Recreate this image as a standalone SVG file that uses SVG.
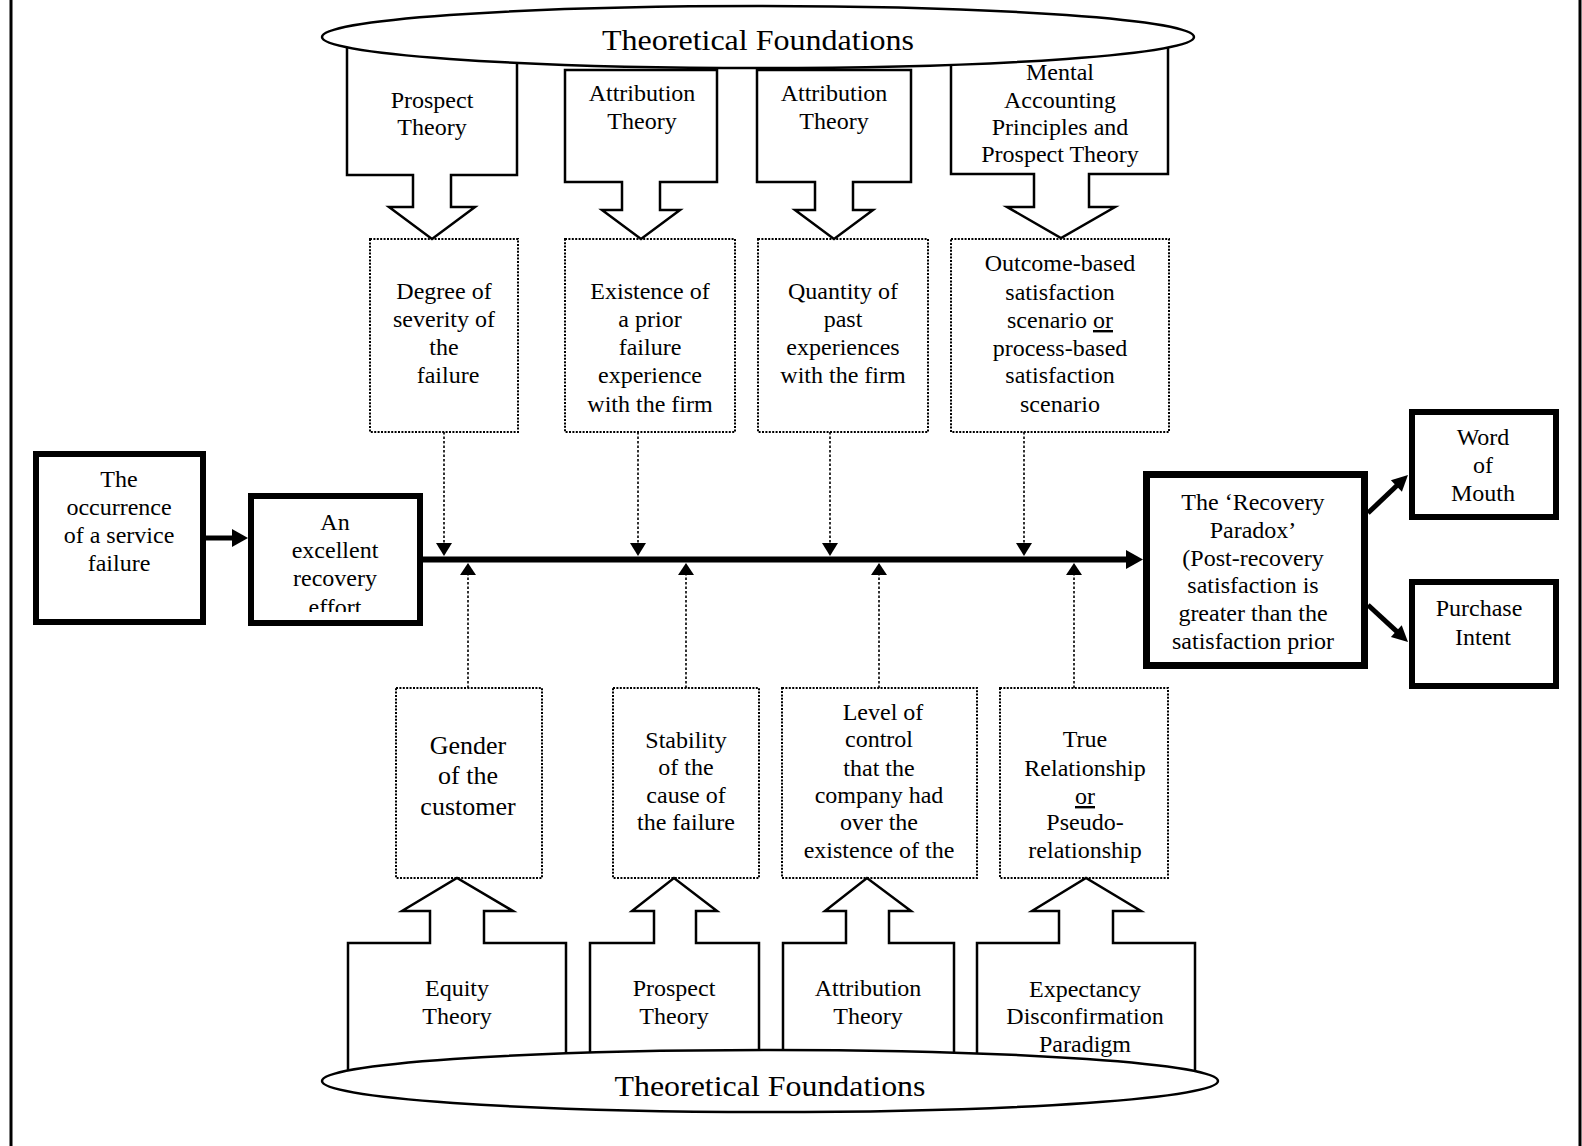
<svg xmlns="http://www.w3.org/2000/svg" width="1582" height="1146" viewBox="0 0 1582 1146">
<style>
.t{font-family:"Liberation Serif","Times New Roman",serif;font-size:24px;text-anchor:middle;fill:#000}
.title{font-size:30px}
.big{font-size:26px}
.thick{fill:#fff;stroke:#000;stroke-width:6}
.xthick{fill:#fff;stroke:#000;stroke-width:7}
.theory{fill:none;stroke:#000;stroke-width:2.5;stroke-linejoin:miter}
.dotbox{fill:none;stroke:#000;stroke-width:2;stroke-dasharray:2 1.4}
.dotline{fill:none;stroke:#000;stroke-width:1.6;stroke-dasharray:2.5 2}
.oval{fill:none;stroke:#000;stroke-width:2.5}
.solid{fill:none;stroke:#000;stroke-width:5}
.head{fill:#000;stroke:none}
.u{text-decoration:underline}
</style>
<defs>
<clipPath id="clipEffort"><rect x="248" y="490" width="175" height="122"/></clipPath>
</defs>
<rect x="0" y="0" width="1582" height="1146" fill="#fff"/>
<g id="page-border">
<line x1="11" y1="0" x2="11" y2="1146" stroke="#000" stroke-width="3"/>
<line x1="1580" y1="0" x2="1580" y2="1146" stroke="#000" stroke-width="3"/>
</g>

<g id="top-foundations">
<ellipse class="oval" cx="758" cy="37" rx="436" ry="31"/>
<text class="t title" x="758" y="50" textLength="312" lengthAdjust="spacingAndGlyphs">Theoretical Foundations</text>
</g>

<g id="top-prospect-theory">
<path class="theory" d="M347,47.3 L347,175 L413,175 L413,207 L389,207 L432,239 L475,207 L451,207 L451,175 L517,175 L517,62.8"/>
<text class="t" x="432" y="108">Prospect</text>
<text class="t" x="432" y="135">Theory</text>
</g>
<g id="top-attribution-theory-1">
<path class="theory" d="M565,70 L717,70 L717,182 L660,182 L660,210 L680,210 L641,239 L602,210 L622,210 L622,182 L565,182 Z"/>
<text class="t" x="642" y="101">Attribution</text>
<text class="t" x="642" y="129">Theory</text>
</g>
<g id="top-attribution-theory-2">
<path class="theory" d="M757,70 L911,70 L911,182 L853,182 L853,210 L873,210 L834,239 L795,210 L815,210 L815,182 L757,182 Z"/>
<text class="t" x="834" y="101">Attribution</text>
<text class="t" x="834" y="129">Theory</text>
</g>
<g id="top-mental-accounting">
<path class="theory" d="M951,64.8 L951,174 L1034,174 L1034,207 L1007,207 L1061,238 L1115,207 L1089,207 L1089,174 L1168,174 L1168,47.5"/>
<text class="t" x="1060" y="80">Mental</text>
<text class="t" x="1060" y="108">Accounting</text>
<text class="t" x="1060" y="135">Principles and</text>
<text class="t" x="1060" y="162">Prospect Theory</text>
</g>

<g id="degree-of-severity">
<rect class="dotbox" x="370" y="239" width="148" height="193"/>
<text class="t" x="444" y="299">Degree of</text>
<text class="t" x="444" y="327">severity of</text>
<text class="t" x="444" y="355">the</text>
<text class="t" x="448" y="383">failure</text>
</g>
<g id="prior-failure">
<rect class="dotbox" x="565" y="239" width="170" height="193"/>
<text class="t" x="650" y="299">Existence of</text>
<text class="t" x="650" y="327">a prior</text>
<text class="t" x="650" y="355">failure</text>
<text class="t" x="650" y="383">experience</text>
<text class="t" x="650" y="412">with the firm</text>
</g>
<g id="past-experiences">
<rect class="dotbox" x="758" y="239" width="170" height="193"/>
<text class="t" x="843" y="299">Quantity of</text>
<text class="t" x="843" y="327">past</text>
<text class="t" x="843" y="355">experiences</text>
<text class="t" x="843" y="383">with the firm</text>
</g>
<g id="satisfaction-scenario">
<rect class="dotbox" x="951" y="239" width="218" height="193"/>
<text class="t" x="1060" y="271">Outcome-based</text>
<text class="t" x="1060" y="300">satisfaction</text>
<text class="t" x="1060" y="328">scenario <tspan class="u">or</tspan></text>
<text class="t" x="1060" y="356">process-based</text>
<text class="t" x="1060" y="383">satisfaction</text>
<text class="t" x="1060" y="412">scenario</text>
</g>

<g id="service-failure">
<rect class="thick" x="36" y="454" width="167" height="168"/>
<text class="t" x="119" y="487">The</text>
<text class="t" x="119" y="515">occurrence</text>
<text class="t" x="119" y="543">of a service</text>
<text class="t" x="119" y="571">failure</text>
</g>
<g id="recovery-effort">
<rect class="thick" x="251" y="496" width="169" height="127"/>
<g clip-path="url(#clipEffort)">
<text class="t" x="335" y="530">An</text>
<text class="t" x="335" y="558">excellent</text>
<text class="t" x="335" y="586">recovery</text>
<text class="t" x="335" y="615">effort</text>
</g>
</g>
<g id="recovery-paradox">
<rect class="xthick" x="1146.5" y="474.5" width="218" height="191"/>
<text class="t" x="1253" y="510">The ‘Recovery</text>
<text class="t" x="1253" y="538">Paradox’</text>
<text class="t" x="1253" y="566">(Post-recovery</text>
<text class="t" x="1253" y="593">satisfaction is</text>
<text class="t" x="1253" y="621">greater than the</text>
<text class="t" x="1253" y="649">satisfaction prior</text>
</g>
<g id="word-of-mouth">
<rect class="thick" x="1412" y="412" width="144" height="105"/>
<text class="t" x="1483" y="445">Word</text>
<text class="t" x="1483" y="473">of</text>
<text class="t" x="1483" y="501">Mouth</text>
</g>
<g id="purchase-intent">
<rect class="thick" x="1412" y="582" width="144" height="104"/>
<text class="t" x="1479" y="616">Purchase</text>
<text class="t" x="1483" y="645">Intent</text>
</g>

<g id="gender">
<rect class="dotbox" x="396" y="688" width="146" height="190"/>
<text class="t big" x="468" y="754">Gender</text>
<text class="t big" x="468" y="784">of the</text>
<text class="t big" x="468" y="815">customer</text>
</g>
<g id="stability">
<rect class="dotbox" x="613" y="688" width="146" height="190"/>
<text class="t" x="686" y="748">Stability</text>
<text class="t" x="686" y="775">of the</text>
<text class="t" x="686" y="803">cause of</text>
<text class="t" x="686" y="830">the failure</text>
</g>
<g id="level-of-control">
<rect class="dotbox" x="782" y="688" width="195" height="190"/>
<text class="t" x="883" y="720">Level of</text>
<text class="t" x="879" y="747">control</text>
<text class="t" x="879" y="776">that the</text>
<text class="t" x="879" y="803">company had</text>
<text class="t" x="879" y="830">over the</text>
<text class="t" x="879" y="858">existence of the</text>
</g>
<g id="relationship">
<rect class="dotbox" x="1000" y="688" width="168" height="190"/>
<text class="t" x="1085" y="747">True</text>
<text class="t" x="1085" y="776">Relationship</text>
<text class="t" x="1085" y="804"><tspan class="u">or</tspan></text>
<text class="t" x="1085" y="830">Pseudo-</text>
<text class="t" x="1085" y="858">relationship</text>
</g>

<g id="bottom-foundations">
<ellipse class="oval" cx="770" cy="1081" rx="448" ry="31"/>
<text class="t title" x="770" y="1096" textLength="311" lengthAdjust="spacingAndGlyphs">Theoretical Foundations</text>
</g>

<g id="bottom-equity-theory">
<path class="theory" d="M348,1070.6 L348,943 L430,943 L430,911 L402,911 L457,878 L513,911 L484,911 L484,943 L566,943 L566,1053.4"/>
<text class="t" x="457" y="996">Equity</text>
<text class="t" x="457" y="1024">Theory</text>
</g>
<g id="bottom-prospect-theory">
<path class="theory" d="M590,1052.6 L590,943 L654,943 L654,911 L632,911 L674,878 L717,911 L696,911 L696,943 L759,943 L759,1050"/>
<text class="t" x="674" y="996">Prospect</text>
<text class="t" x="674" y="1024">Theory</text>
</g>
<g id="bottom-attribution-theory">
<path class="theory" d="M783,1050 L783,943 L846,943 L846,911 L825,911 L867,878 L911,911 L889,911 L889,943 L954,943 L954,1052.7"/>
<text class="t" x="868" y="996">Attribution</text>
<text class="t" x="868" y="1024">Theory</text>
</g>
<g id="bottom-expectancy">
<path class="theory" d="M977,1053.5 L977,943 L1059,943 L1059,911 L1032,911 L1086,878 L1141,911 L1113,911 L1113,943 L1195,943 L1195,1071.2"/>
<text class="t" x="1085" y="997">Expectancy</text>
<text class="t" x="1085" y="1024">Disconfirmation</text>
<text class="t" x="1085" y="1052">Paradigm</text>
</g>

<g id="connectors">
<line class="solid" x1="206" y1="538" x2="234" y2="538"/>
<polygon class="head" points="232,529 248,538 232,547"/>
<line x1="420" y1="559.5" x2="1128" y2="559.5" stroke="#000" stroke-width="6"/>
<polygon class="head" points="1126,550 1143,559.5 1126,569"/>
<line class="solid" x1="1368" y1="513" x2="1398" y2="484.5"/>
<polygon class="head" points="1408,475 1401.9,491.8 1390.9,480.2"/>
<line class="solid" x1="1368" y1="605" x2="1398" y2="632.7"/>
<polygon class="head" points="1408,642 1390.9,637 1401.7,625.2"/>
<line class="dotline" x1="444" y1="432" x2="444" y2="544"/>
<polygon class="head" points="436,543 452,543 444,556"/>
<line class="dotline" x1="638" y1="432" x2="638" y2="544"/>
<polygon class="head" points="630,543 646,543 638,556"/>
<line class="dotline" x1="830" y1="432" x2="830" y2="544"/>
<polygon class="head" points="822,543 838,543 830,556"/>
<line class="dotline" x1="1024" y1="432" x2="1024" y2="544"/>
<polygon class="head" points="1016,543 1032,543 1024,556"/>
<line class="dotline" x1="468" y1="688" x2="468" y2="574"/>
<polygon class="head" points="460,575 476,575 468,563"/>
<line class="dotline" x1="686" y1="688" x2="686" y2="574"/>
<polygon class="head" points="678,575 694,575 686,563"/>
<line class="dotline" x1="879" y1="688" x2="879" y2="574"/>
<polygon class="head" points="871,575 887,575 879,563"/>
<line class="dotline" x1="1074" y1="688" x2="1074" y2="574"/>
<polygon class="head" points="1066,575 1082,575 1074,563"/>
</g>
</svg>
